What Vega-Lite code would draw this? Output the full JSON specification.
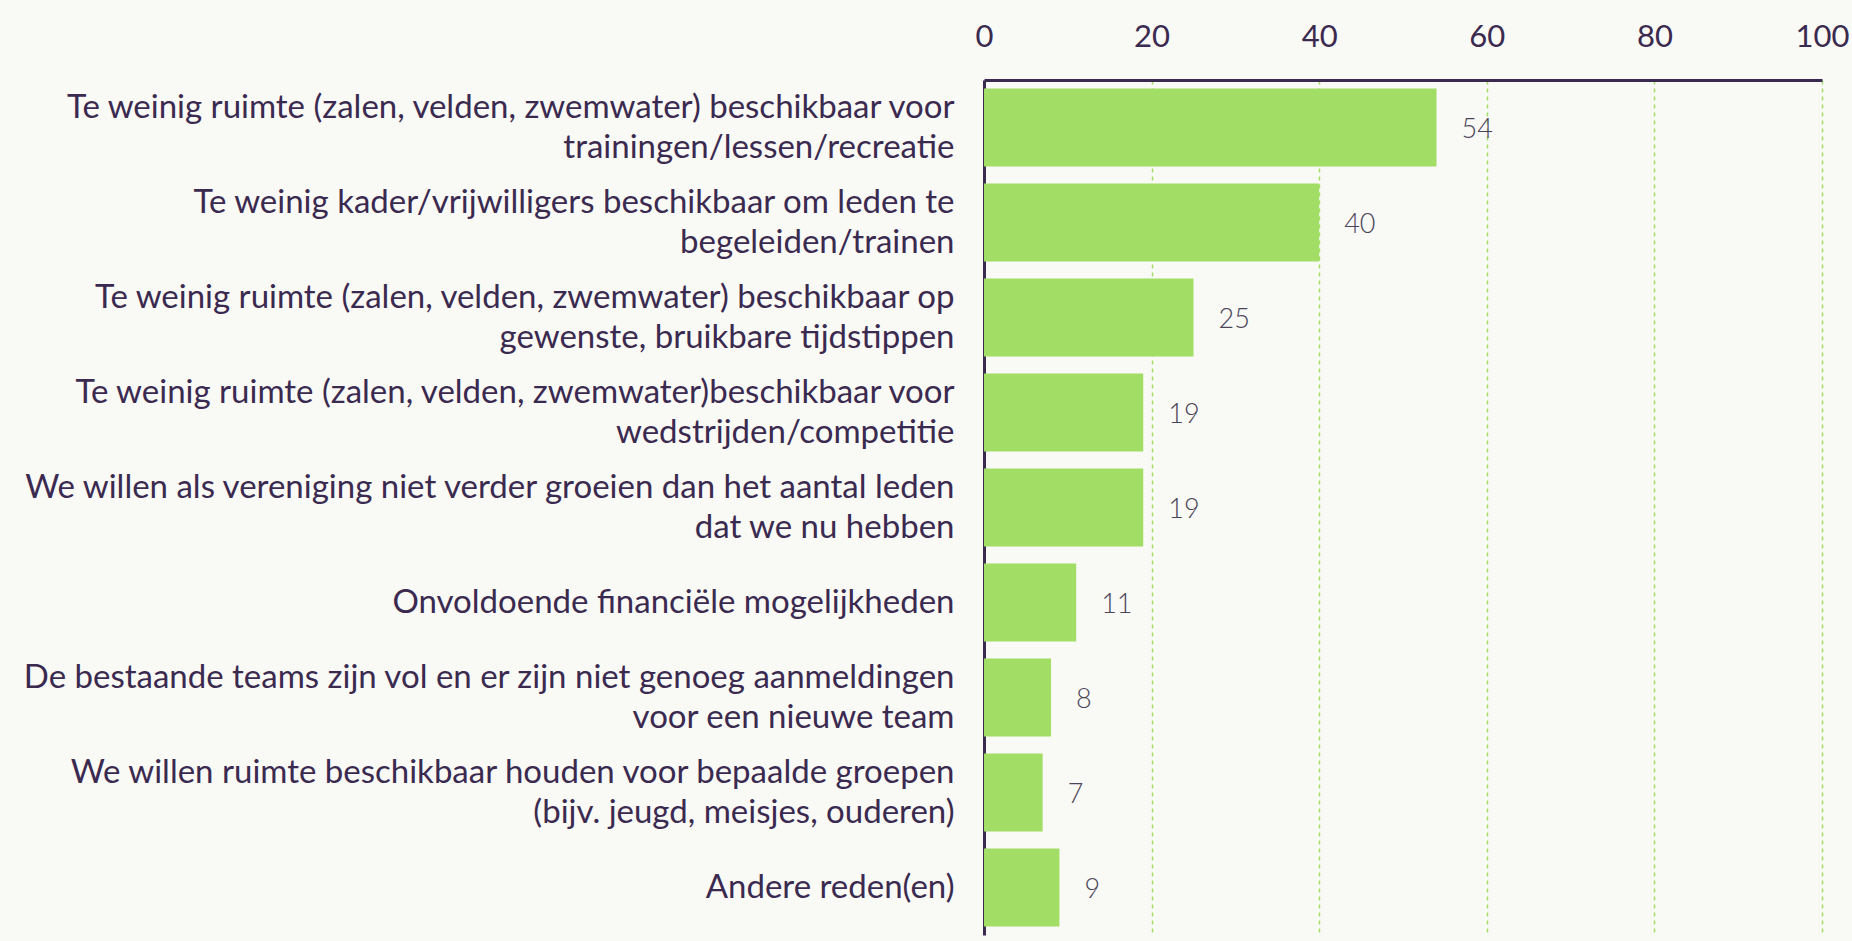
{
  "$schema": "https://vega.github.io/schema/vega-lite/v6.json",
  "description": "Redenen waarom verenigingen niet verder groeien (percentages).",
  "width": 838,
  "height": 855,
  "autosize": "none",
  "padding": {"left": 984, "top": 80, "right": 30, "bottom": 6},
  "background": "#f9f9f5",
  "config": {
    "view": {"stroke": null},
    "font": "Lato"
  },
  "data": {
    "values": [
      {"reden": "Te weinig ruimte (zalen, velden, zwemwater) beschikbaar voor|trainingen/lessen/recreatie", "pct": 54},
      {"reden": "Te weinig kader/vrijwilligers beschikbaar om leden te|begeleiden/trainen", "pct": 40},
      {"reden": "Te weinig ruimte (zalen, velden, zwemwater) beschikbaar op|gewenste, bruikbare tijdstippen", "pct": 25},
      {"reden": "Te weinig ruimte (zalen, velden, zwemwater)beschikbaar voor|wedstrijden/competitie", "pct": 19},
      {"reden": "We willen als vereniging niet verder groeien dan het aantal leden|dat we nu hebben", "pct": 19},
      {"reden": "Onvoldoende financiële mogelijkheden", "pct": 11},
      {"reden": "De bestaande teams zijn vol en er zijn niet genoeg aanmeldingen|voor een nieuwe team", "pct": 8},
      {"reden": "We willen ruimte beschikbaar houden voor bepaalde groepen|(bijv. jeugd, meisjes, ouderen)", "pct": 7},
      {"reden": "Andere reden(en)", "pct": 9}
    ]
  },
  "encoding": {
    "y": {
      "field": "reden",
      "type": "nominal",
      "sort": null,
      "title": null,
      "scale": {"paddingInner": 0.18, "paddingOuter": 0.09},
      "axis": {
        "labelExpr": "split(datum.label, '|')",
        "labelFont": "Lato",
        "labelFontSize": 33,
        "labelLineHeight": 40,
        "labelColor": "#3b2a50",
        "labelAlign": "right",
        "labelPadding": 30,
        "labelOffset": {"condition": {"test": "indexof(datum.value, '|') >= 0", "value": -20}, "value": 0},
        "labelLimit": 1000,
        "ticks": false,
        "domainColor": "#3b2a50",
        "domainWidth": 3,
        "grid": false
      }
    }
  },
  "layer": [
    {
      "mark": {"type": "bar", "color": "#a2de66"},
      "encoding": {
        "x": {
          "field": "pct",
          "type": "quantitative",
          "title": null,
          "scale": {"domain": [0, 100], "nice": false},
          "axis": {
            "orient": "top",
            "values": [0, 20, 40, 60, 80, 100],
            "labelFont": "Lato",
            "labelFontSize": 31,
            "labelColor": "#3b2a50",
            "labelPadding": 27,
            "labelFlush": false,
            "ticks": false,
            "domainColor": "#3b2a50",
            "domainWidth": 3,
            "grid": true,
            "gridColor": "#a2de66",
            "gridDash": [4, 4],
            "gridWidth": 1.5
          }
        }
      }
    },
    {
      "mark": {
        "type": "text",
        "align": "left",
        "dx": 25,
        "dy": 2,
        "font": "Lato",
        "fontWeight": 300,
        "fontSize": 27,
        "color": "#4a4458"
      },
      "encoding": {
        "x": {"field": "pct", "type": "quantitative"},
        "text": {"field": "pct", "type": "quantitative"}
      }
    }
  ]
}
